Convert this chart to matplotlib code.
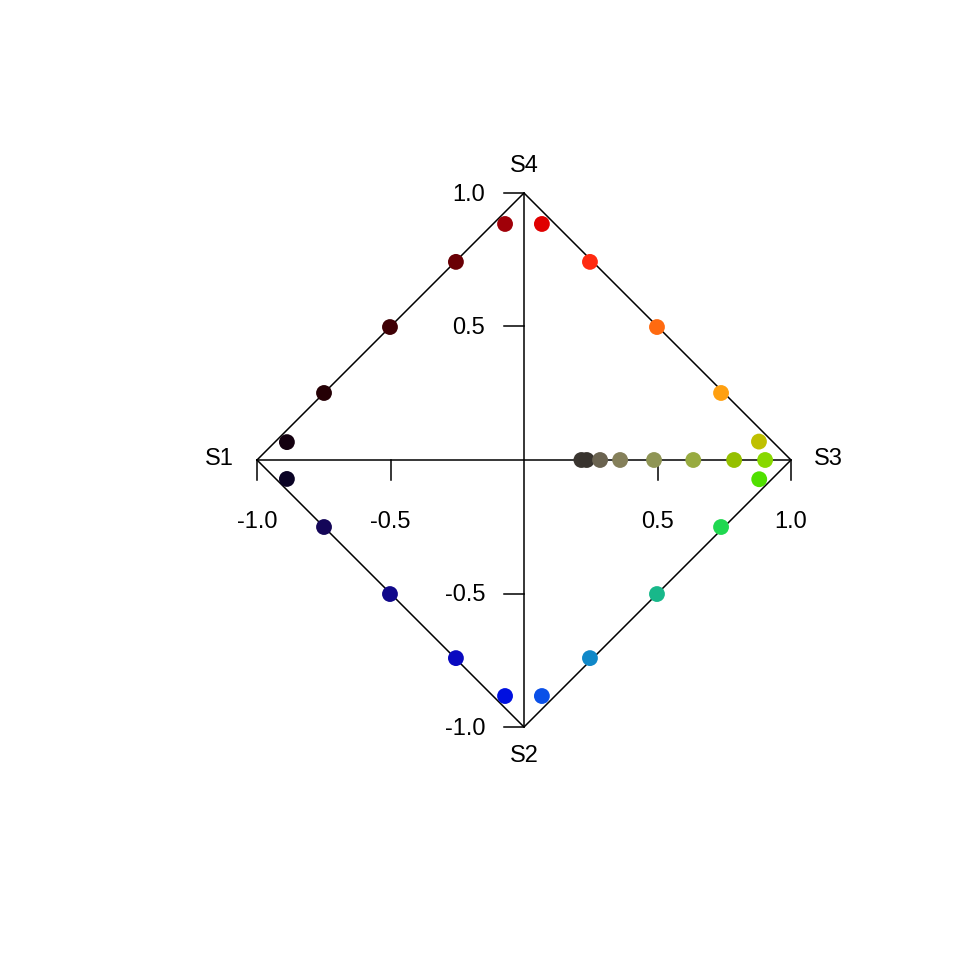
import numpy as np
import matplotlib
matplotlib.use("Agg")
from matplotlib import pyplot as plt

"""
radial / diamond plot of S1..S4 with coloured points
"""

# point positions (x, y)
x_vals = [-0.888, -0.749, -0.502, -0.255, -0.071,
          0.067, 0.247, 0.498, 0.738, 0.880,
          0.215, 0.235, 0.285, 0.360, 0.487, 0.634, 0.787, 0.903,
          0.881, 0.738, 0.498, 0.247, 0.067,
          -0.071, -0.255, -0.502, -0.749, -0.888]
y_vals = [0.067, 0.251, 0.498, 0.742, 0.884,
          0.884, 0.742, 0.498, 0.251, 0.069,
          0.0, 0.0, 0.0, 0.0, 0.0, 0.0, 0.0, 0.0,
          -0.072, -0.251, -0.502, -0.742, -0.884,
          -0.884, -0.742, -0.502, -0.251, -0.071]
point_colors = ['#140010', '#250005', '#3f0005', '#6a0005', '#a00008',
                '#e00000', '#ff2a10', '#ff6a10', '#ffa010', '#bfc000',
                '#3a3530', '#38332e', '#6a6350', '#85805a', '#8f9555', '#98ab40', '#95c000', '#88d800',
                '#50e000', '#20d850', '#18b88a', '#1088c8', '#0a50e8',
                '#0010e0', '#0a0ac0', '#10088a', '#140658', '#0a0325']

corner_labels = ['S1', 'S2', 'S3', 'S4']
tick_vals = [-1.0, -0.5, 0.5, 1.0]
tick_labels = ['-1.0', '-0.5', '0.5', '1.0']

plt.rcParams['font.family'] = ['Liberation Sans', 'DejaVu Sans']
fs = 17

fig = plt.figure(figsize=(9.6, 9.6), dpi=100)
ax = fig.add_axes([0, 0, 1, 1])
ax.set_xlim(-524 / 267, 436 / 267)
ax.set_ylim(-500 / 267, 460 / 267)
ax.axis('off')

lw = 1.1
# diamond outline
ax.plot([-1, 0, 1, 0, -1], [0, 1, 0, -1, 0], color='black', lw=lw, zorder=1)
# cross axes
ax.plot([-1, 1], [0, 0], color='black', lw=lw, zorder=1)
ax.plot([0, 0], [-1, 1], color='black', lw=lw, zorder=1)

# ticks on horizontal axis (pointing down) and vertical axis (pointing left)
tl = 20 / 267
for v, lab in zip(tick_vals, tick_labels):
    ax.plot([v, v], [0, -tl], color='black', lw=lw, zorder=1)
    ax.text(v, -0.232, lab, ha='center', va='center', fontsize=fs)
    ax.plot([0, -tl], [v, v], color='black', lw=lw, zorder=1)
    ax.text(-0.145, v - 0.006, lab, ha='right', va='center', fontsize=fs)

# corner labels
ax.text(-1.14, 0.003, corner_labels[0], ha='center', va='center', fontsize=fs)
ax.text(0, -1.11, corner_labels[1], ha='center', va='center', fontsize=fs)
ax.text(1.14, 0.003, corner_labels[2], ha='center', va='center', fontsize=fs)
ax.text(0, 1.10, corner_labels[3], ha='center', va='center', fontsize=fs)

ax.scatter(x_vals, y_vals, c=point_colors, s=130, linewidths=0, zorder=3)

fig.savefig('out.png', dpi=100)
